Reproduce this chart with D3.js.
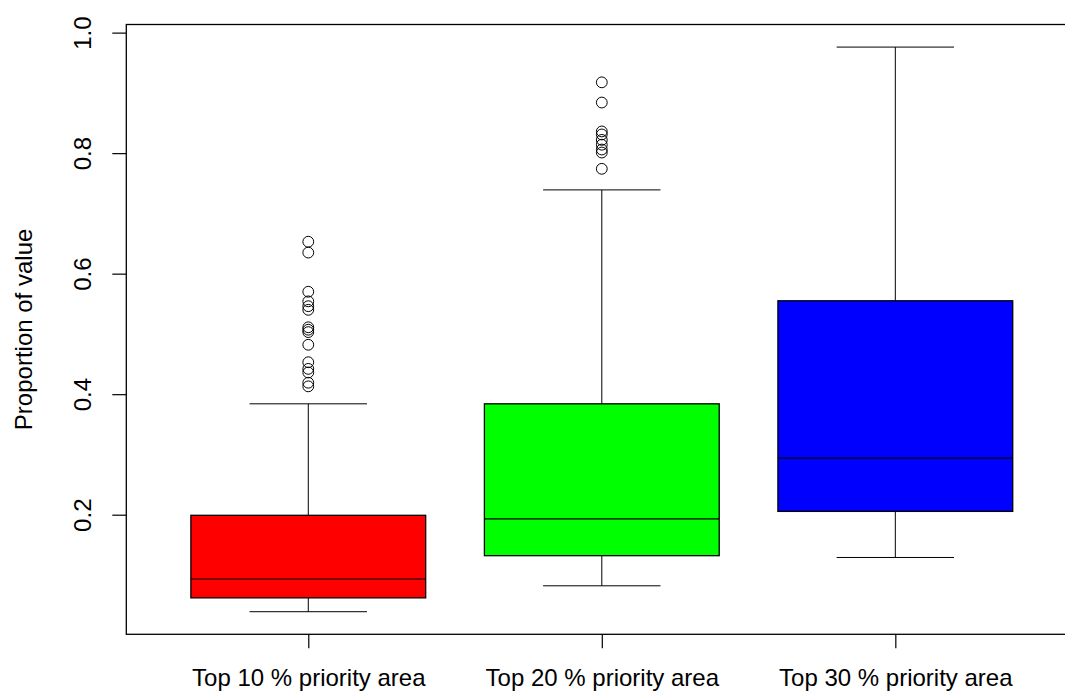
<!DOCTYPE html>
<html>
<head>
<meta charset="utf-8">
<script src="https://cdn.jsdelivr.net/npm/d3@7"></script>
<style>
  html, body { margin: 0; padding: 0; background: #fff; }
  svg { display: block; font-family: "Liberation Sans", Arial, sans-serif; }
</style>
</head>
<body>
<svg id="chart" width="1065" height="692"></svg>
<script>
// Categories and box statistics
const categories = ["Top 10 % priority area", "Top 20 % priority area", "Top 30 % priority area"];
const boxColors = ["#ff0000", "#00ff00", "#0000ff"];
const whiskerLow = [0.039, 0.082, 0.129];
const q1 = [0.062, 0.132, 0.2055];
const median = [0.0933, 0.193, 0.294];
const q3 = [0.199, 0.384, 0.555];
const whiskerHigh = [0.384, 0.739, 0.976];
const outliers = [
  [0.653, 0.635, 0.570, 0.554, 0.546, 0.540, 0.511, 0.507, 0.503, 0.482, 0.453, 0.442, 0.436, 0.419, 0.413],
  [0.9175, 0.884, 0.836, 0.831, 0.822, 0.814, 0.806, 0.801, 0.774],
  []
];
const yTicks = [0.2, 0.4, 0.6, 0.8, 1.0];
const yTitle = "Proportion of value";

const svg = d3.select("#chart");
const margin = { left: 126.3, top: 24.5 };
const plotW = 951, plotH = 609.8;

// y range padded by 4% like a classic boxplot
const allVals = whiskerLow.concat(whiskerHigh, outliers.flat());
const lo = d3.min(allVals), hi = d3.max(allVals);
const pad = (hi - lo) * 0.04;
const y = d3.scaleLinear().domain([lo - pad, hi + pad]).range([margin.top + plotH, margin.top]);
const x = d3.scaleLinear().domain([0.38, categories.length + 0.62]).range([margin.left, margin.left + plotW]);

const boxW = (x(1.8) - x(1)) ;
const capW = boxW / 2;

const g = svg.append("g");

categories.forEach((c, i) => {
  const cx = x(i + 1);
  const grp = g.append("g");
  // whiskers
  grp.append("line").attr("x1", cx).attr("x2", cx).attr("y1", y(q3[i])).attr("y2", y(whiskerHigh[i]))
    .attr("stroke", "#000").attr("stroke-width", 1);
  grp.append("line").attr("x1", cx).attr("x2", cx).attr("y1", y(q1[i])).attr("y2", y(whiskerLow[i]))
    .attr("stroke", "#000").attr("stroke-width", 1);
  // caps
  [whiskerHigh[i], whiskerLow[i]].forEach(v => {
    grp.append("line").attr("x1", cx - capW / 2).attr("x2", cx + capW / 2)
      .attr("y1", y(v)).attr("y2", y(v)).attr("stroke", "#000").attr("stroke-width", 1);
  });
  // box
  grp.append("rect").attr("x", cx - boxW / 2).attr("width", boxW)
    .attr("y", y(q3[i])).attr("height", y(q1[i]) - y(q3[i]))
    .attr("fill", boxColors[i]).attr("stroke", "#000").attr("stroke-width", 1.3);
  // median
  grp.append("line").attr("x1", cx - boxW / 2).attr("x2", cx + boxW / 2)
    .attr("y1", y(median[i])).attr("y2", y(median[i])).attr("stroke", "#000").attr("stroke-width", 1.2);
  // outliers
  grp.selectAll("circle.out").data(outliers[i]).enter().append("circle")
    .attr("class", "out").attr("cx", cx).attr("cy", d => y(d)).attr("r", 5.4)
    .attr("fill", "none").attr("stroke", "#000").attr("stroke-width", 1);
});

// plot frame
svg.append("rect").attr("x", margin.left).attr("y", margin.top).attr("width", plotW).attr("height", plotH)
  .attr("fill", "none").attr("stroke", "#000").attr("stroke-width", 1.3);

// y axis
const yAxis = svg.append("g").attr("transform", `translate(${margin.left},0)`)
  .call(d3.axisLeft(y).tickValues(yTicks).tickSize(14).tickFormat(d3.format(".1f")));
yAxis.select(".domain").remove();
yAxis.selectAll(".tick line").attr("stroke", "#000").attr("stroke-width", 1.2);
yAxis.selectAll(".tick text")
  .attr("x", null).attr("dy", null)
  .attr("text-anchor", "middle")
  .attr("transform", "translate(-35,0) rotate(-90)")
  .attr("font-size", 24).attr("font-family", "Liberation Sans, Arial, sans-serif").attr("fill", "#000");

// x axis
const xAxis = svg.append("g").attr("transform", `translate(0,${margin.top + plotH})`)
  .call(d3.axisBottom(x).tickValues(categories.map((c, i) => i + 1)).tickSize(14)
    .tickFormat((d, i) => categories[i]));
xAxis.select(".domain").remove();
xAxis.selectAll(".tick line").attr("stroke", "#000").attr("stroke-width", 1.2);
xAxis.selectAll(".tick text")
  .attr("y", 52).attr("dy", null)
  .attr("font-size", 24).attr("font-family", "Liberation Sans, Arial, sans-serif").attr("fill", "#000");

// y title
svg.append("text")
  .attr("transform", `translate(32,${margin.top + plotH / 2}) rotate(-90)`)
  .attr("text-anchor", "middle").attr("font-size", 24).attr("fill", "#000")
  .text(yTitle);
</script>
</body>
</html>
